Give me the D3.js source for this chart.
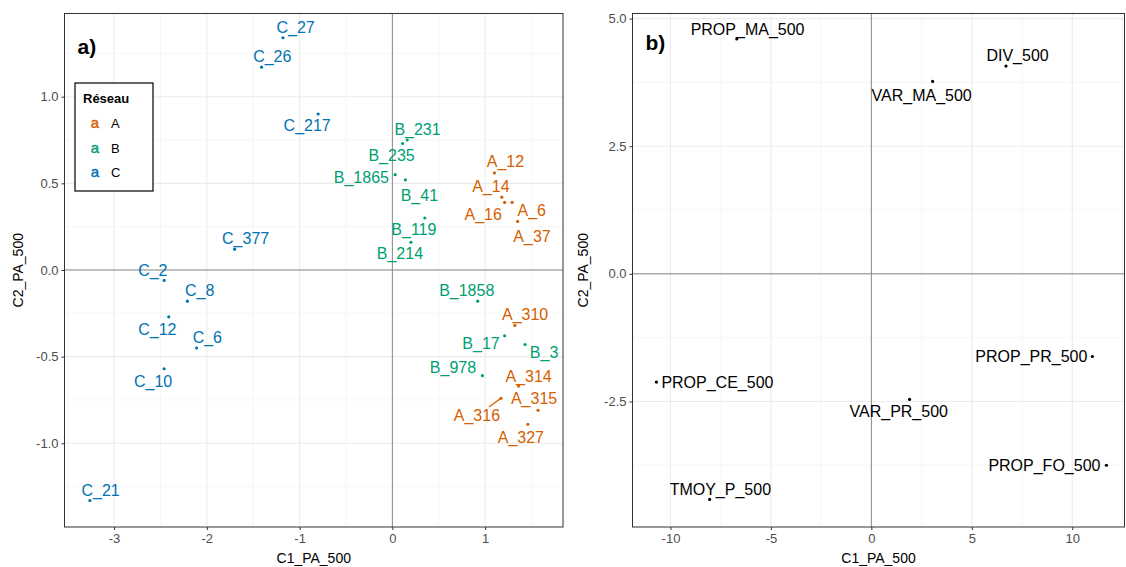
<!DOCTYPE html>
<html>
<head>
  <meta charset="utf-8">
  <script src="https://d3js.org/d3.v7.min.js"></script>
  <style>
    body { margin: 0; background: #fff; }
    text { font-family: "Liberation Sans", Arial, sans-serif; }
  </style>
</head>
<body>
<script type="text/javascript">
  // panel a) : sites
  var sites = ["C_27", "C_26", "C_217", "C_377", "C_2", "C_8", "C_12", "C_6", "C_10", "C_21",
               "B_231", "B_235", "B_1865", "B_41", "B_119", "B_214", "B_1858", "B_17", "B_3", "B_978",
               "A_12", "A_14", "A_16", "A_6", "A_37", "A_310", "A_314", "A_316", "A_315", "A_327"];
  var c1Sites = [-1.18, -1.41, -0.80, -1.70, -2.46, -2.21, -2.41, -2.11, -2.46, -3.26,
                 0.16, 0.11, 0.03, 0.14, 0.35, 0.20, 0.92, 1.21, 1.43, 0.97,
                 1.10, 1.18, 1.21, 1.29, 1.35, 1.32, 1.36, 1.17, 1.57, 1.46];
  var c2Sites = [1.34, 1.17, 0.90, 0.12, -0.06, -0.18, -0.27, -0.45, -0.57, -1.33,
                 0.75, 0.73, 0.55, 0.52, 0.30, 0.16, -0.18, -0.38, -0.43, -0.61,
                 0.56, 0.42, 0.39, 0.39, 0.28, -0.32, -0.67, -0.74, -0.81, -0.89];
  var reseau = ["C", "C", "C", "C", "C", "C", "C", "C", "C", "C",
                "B", "B", "B", "B", "B", "B", "B", "B", "B", "B",
                "A", "A", "A", "A", "A", "A", "A", "A", "A", "A"];
  var groups = ["A", "B", "C"];

  // panel b) : variables
  var variables = ["PROP_MA_500", "DIV_500", "VAR_MA_500", "PROP_PR_500", "PROP_CE_500",
                   "VAR_PR_500", "PROP_FO_500", "TMOY_P_500"];
  var c1Vars = [-6.7, 6.7, 3.05, 11.0, -10.7, 1.9, 11.7, -8.05];
  var c2Vars = [4.6, 4.07, 3.77, -1.62, -2.12, -2.46, -3.75, -4.42];

  var ticksAX = [-3, -2, -1, 0, 1];
  var ticksAY = [-1, -0.5, 0, 0.5, 1];
  var ticksBX = [-10, -5, 0, 5, 10];
  var ticksBY = [-2.5, 0, 2.5, 5];

  var colors = {A: "#D55E00", B: "#009E73", C: "#0072B2"};

  // repel-like label offsets (px), label centre relative to point
  var nudgeA = {
    "C_27": [12.7, -10.3], "C_26": [10.7, -10.4], "C_217": [-11, 11.7], "C_377": [11, -10.3],
    "C_2": [-11.3, -10.3], "C_8": [12.3, -10.3], "C_12": [-11.4, 12.3], "C_6": [10.7, -10.7],
    "C_10": [-11, 12.4], "C_21": [10.7, -10],
    "B_231": [10.3, -10.7], "B_235": [-11, 11.7], "B_1865": [-33.8, 3], "B_41": [14, 15.3],
    "B_119": [-11, 11.7], "B_214": [-11, 11.7], "B_1858": [-11, -10.6], "B_17": [-23.6, 8],
    "B_3": [19, 8.3], "B_978": [-29.4, -8.7],
    "A_12": [11, -11], "A_14": [-11, -11], "A_16": [-21.4, 11.7], "A_6": [19.7, 8.4],
    "A_37": [14.4, 14.7], "A_310": [10.3, -10.7], "A_314": [10, -10], "A_316": [-24, 17.7],
    "A_315": [-4, -12], "A_327": [-7, 13.3]
  };
  var nudgeB = {
    "PROP_MA_500": [10.8, -9.3], "DIV_500": [11.6, -10.3], "VAR_MA_500": [-11, 13.7],
    "PROP_PR_500": [-61, 0], "PROP_CE_500": [61, 0], "VAR_PR_500": [-10.8, 12.4],
    "PROP_FO_500": [-62, 0.7], "TMOY_P_500": [10.7, -10.3]
  };
  var segmentsA = ["A_316"];

  var svg = d3.select("body").append("svg")
    .attr("width", 1126).attr("height", 567);

  function panel(opt) {
    var x = d3.scaleLinear().domain(opt.xdom).range([opt.left, opt.right]);
    var y = d3.scaleLinear().domain(opt.ydom).range([opt.bottom, opt.top]);
    var g = svg.append("g");

    // minor grid
    var mx = [], my = [];
    for (var i = 0; i < opt.xt.length - 1; i++) mx.push((opt.xt[i] + opt.xt[i + 1]) / 2);
    mx.push(opt.xt[0] - (opt.xt[1] - opt.xt[0]) / 2, opt.xt[opt.xt.length - 1] + (opt.xt[1] - opt.xt[0]) / 2);
    for (var j = 0; j < opt.yt.length - 1; j++) my.push((opt.yt[j] + opt.yt[j + 1]) / 2);
    my.push(opt.yt[0] - (opt.yt[1] - opt.yt[0]) / 2, opt.yt[opt.yt.length - 1] + (opt.yt[1] - opt.yt[0]) / 2);
    mx = mx.filter(function(v) { return v > opt.xdom[0] && v < opt.xdom[1]; });
    my = my.filter(function(v) { return v > opt.ydom[0] && v < opt.ydom[1]; });

    g.selectAll(".mgx").data(mx).enter().append("line")
      .attr("x1", d => x(d)).attr("x2", d => x(d))
      .attr("y1", opt.top).attr("y2", opt.bottom)
      .style("stroke", "#f0f0f0").style("stroke-width", 0.6);
    g.selectAll(".mgy").data(my).enter().append("line")
      .attr("x1", opt.left).attr("x2", opt.right)
      .attr("y1", d => y(d)).attr("y2", d => y(d))
      .style("stroke", "#f0f0f0").style("stroke-width", 0.6);
    g.selectAll(".gx").data(opt.xt).enter().append("line")
      .attr("x1", d => x(d)).attr("x2", d => x(d))
      .attr("y1", opt.top).attr("y2", opt.bottom)
      .style("stroke", "#ebebeb").style("stroke-width", 1.1);
    g.selectAll(".gy").data(opt.yt).enter().append("line")
      .attr("x1", opt.left).attr("x2", opt.right)
      .attr("y1", d => y(d)).attr("y2", d => y(d))
      .style("stroke", "#ebebeb").style("stroke-width", 1.1);

    // zero lines
    g.append("line").attr("x1", x(0)).attr("x2", x(0)).attr("y1", opt.top).attr("y2", opt.bottom)
      .style("stroke", "#8a8a8a").style("stroke-width", 1);
    g.append("line").attr("x1", opt.left).attr("x2", opt.right).attr("y1", y(0)).attr("y2", y(0))
      .style("stroke", "#8a8a8a").style("stroke-width", 1);

    // axes
    var xAxis = d3.axisBottom(x).tickValues(opt.xt).tickSize(3).tickPadding(4)
      .tickFormat(d3.format("d"));
    var yAxis = d3.axisLeft(y).tickValues(opt.yt).tickSize(3).tickPadding(3)
      .tickFormat(d3.format(".1f"));
    var gx = g.append("g").attr("transform", "translate(0," + opt.bottom + ")").call(xAxis);
    var gy = g.append("g").attr("transform", "translate(" + opt.left + ",0)").call(yAxis);
    [gx, gy].forEach(function(a) {
      a.select(".domain").remove();
      a.selectAll("line").style("stroke", "#333333");
      a.selectAll("text").style("fill", "#4d4d4d").style("font-size", "13px")
        .style("font-family", "Liberation Sans, Arial, sans-serif")
        .text(function() { return d3.select(this).text().replace("−", "-"); });
    });

    // border
    g.append("rect").attr("x", opt.left).attr("y", opt.top)
      .attr("width", opt.right - opt.left).attr("height", opt.bottom - opt.top)
      .style("fill", "none").style("stroke", "#333333").style("stroke-width", 1);

    // axis titles
    g.append("text").attr("x", (opt.left + opt.right) / 2).attr("y", 563)
      .attr("text-anchor", "middle").style("font-size", "14px").text("C1_PA_500");
    g.append("text").attr("transform", "translate(" + opt.ytx + "," + (opt.top + opt.bottom) / 2 + ") rotate(-90)")
      .attr("text-anchor", "middle").style("font-size", "14px").text("C2_PA_500");

    // tag
    g.append("text").attr("x", opt.left + 13).attr("y", opt.tagY)
      .style("font-size", "21px").style("font-weight", "bold").text(opt.tag);

    return {g: g, x: x, y: y};
  }

  // ---------- panel a ----------
  var pa = panel({left: 64.5, right: 563, top: 13.5, bottom: 527,
    xdom: [-3.534, 1.839], ydom: [-1.483, 1.48], xt: ticksAX, yt: ticksAY,
    ytx: 23, tag: "a)", tagY: 54});

  var dataA = sites.map(function(s, i) {
    return {name: s, x: c1Sites[i], y: c2Sites[i], grp: reseau[i]};
  });

  pa.g.selectAll(".segA").data(dataA.filter(d => segmentsA.indexOf(d.name) >= 0)).enter()
    .append("line")
    .attr("x1", d => pa.x(d.x)).attr("y1", d => pa.y(d.y))
    .attr("x2", d => pa.x(d.x) + nudgeA[d.name][0] + 12)
    .attr("y2", d => pa.y(d.y) + nudgeA[d.name][1] - 9)
    .style("stroke", d => colors[d.grp]).style("stroke-width", 1.3);

  pa.g.selectAll(".ptA").data(dataA).enter().append("circle")
    .attr("cx", d => pa.x(d.x)).attr("cy", d => pa.y(d.y)).attr("r", 1.6)
    .style("fill", d => colors[d.grp]);

  pa.g.selectAll(".lbA").data(dataA).enter().append("text")
    .attr("x", d => pa.x(d.x) + nudgeA[d.name][0])
    .attr("y", d => pa.y(d.y) + nudgeA[d.name][1])
    .attr("text-anchor", "middle").attr("dominant-baseline", "central")
    .style("font-size", "16px").style("fill", d => colors[d.grp])
    .text(d => d.name);

  // legend
  var lg = pa.g.append("g").attr("transform", "translate(75,83)");
  lg.append("rect").attr("width", 78).attr("height", 108)
    .style("fill", "#fff").style("stroke", "#000").style("stroke-width", 1.2);
  lg.append("text").attr("x", 8).attr("y", 20).style("font-size", "13px")
    .style("font-weight", "bold").text("Réseau");
  groups.forEach(function(k, i) {
    lg.append("text").attr("x", 20).attr("y", 45 + i * 24.5).attr("text-anchor", "middle")
      .style("font-size", "15px").style("fill", colors[k])
      .style("stroke", colors[k]).style("stroke-width", 0.4).text("a");
    lg.append("text").attr("x", 36).attr("y", 45 + i * 24.5).style("font-size", "13px").text(k);
  });

  // ---------- panel b ----------
  var pb = panel({left: 632.5, right: 1124.5, top: 13.5, bottom: 527,
    xdom: [-11.89, 12.6], ydom: [-4.96, 5.10], xt: ticksBX, yt: ticksBY,
    ytx: 588, tag: "b)", tagY: 50});

  var dataB = variables.map(function(v, i) {
    return {name: v, x: c1Vars[i], y: c2Vars[i]};
  });

  pb.g.selectAll(".ptB").data(dataB).enter().append("circle")
    .attr("cx", d => pb.x(d.x)).attr("cy", d => pb.y(d.y)).attr("r", 1.6)
    .style("fill", "#000");

  pb.g.selectAll(".lbB").data(dataB).enter().append("text")
    .attr("x", d => pb.x(d.x) + nudgeB[d.name][0])
    .attr("y", d => pb.y(d.y) + nudgeB[d.name][1])
    .attr("text-anchor", "middle").attr("dominant-baseline", "central")
    .style("font-size", "16px").style("fill", "#000")
    .text(d => d.name);
</script>
</body>
</html>
